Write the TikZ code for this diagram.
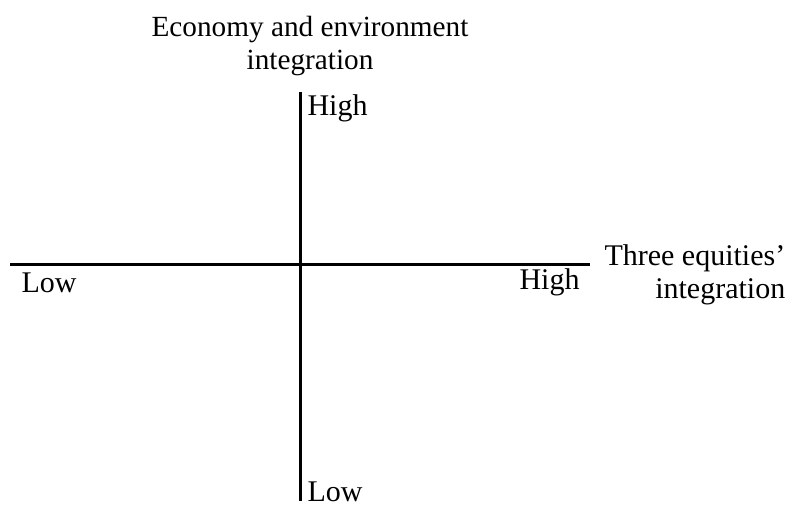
\documentclass[tikz,border=0pt]{standalone}
\usepackage{fontspec}
\setmainfont{Liberation Serif}
\usepackage{tikz}
\usetikzlibrary{positioning}

\tikzset{
  axis/.style={line width=1.2pt},
  axlabel/.style={inner sep=0pt, font=\fontsize{12}{13.2}\selectfont},
}

\begin{document}
\begin{tikzpicture}[x=0.4pt, y=-0.4pt]
    \useasboundingbox (0,0) rectangle (785,509);

    % Axes
    \coordinate (west) at (10,264);
    \coordinate (east) at (590,264);
    \coordinate (north) at (300,92);
    \coordinate (south) at (300,501);
    \draw[axis] (west) -- (east);
    \draw[axis] (north) -- (south);

    % Vertical axis labels
    \node[axlabel, align=center, font=\fontsize{11.7}{13}\selectfont] (ytitle) at (310,46) {Economy and environment\\integration};
    \node[axlabel, anchor=west] (yhigh) at (307,108) {High};
    \node[axlabel, anchor=west] (ylow) at (307,492) {Low};

    % Horizontal axis labels
    \node[axlabel, anchor=west] (xlow) at (21,283) {Low};
    \node[axlabel, anchor=east] (xhigh) at (580,282) {High};
    \node[axlabel, align=right, anchor=west] (xtitle) at (604,275) {Three equities'\\integration};
\end{tikzpicture}
\end{document}
